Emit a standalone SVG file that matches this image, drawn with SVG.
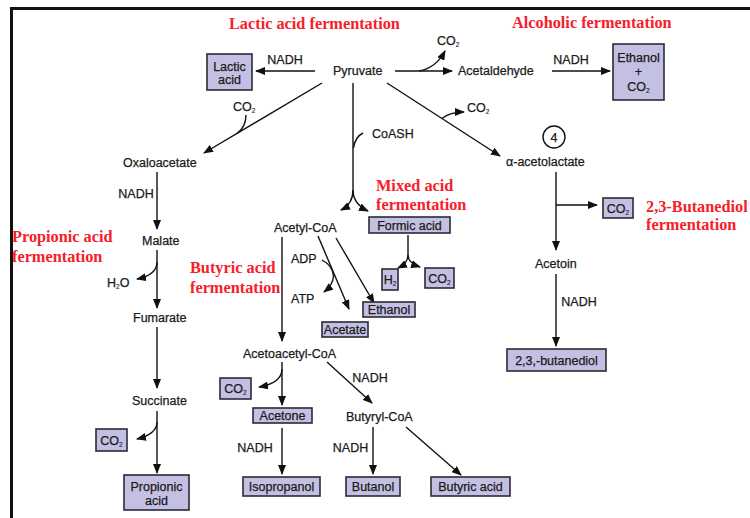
<svg xmlns="http://www.w3.org/2000/svg" width="750" height="518" viewBox="0 0 750 518">
<style>
.t{font-family:"Liberation Sans",Arial,sans-serif;font-size:12.5px;fill:#1a1a1a;stroke:#1a1a1a;stroke-width:0.25px}
.m{text-anchor:middle}
.r{font-family:"Liberation Serif","Times New Roman",serif;font-size:16.3px;font-weight:bold;fill:#f5202a}
.b{fill:#c4c0e4;stroke:#2a2a35;stroke-width:1.6}
.c{fill:none;stroke:#111;stroke-width:1.4}
.s{font-size:6.5px;stroke-width:0.1px}
</style>
<defs>
<marker id="a" markerUnits="userSpaceOnUse" markerWidth="10" markerHeight="8" refX="9" refY="4" orient="auto">
<path d="M0,0 L10,4 L0,8 Z" fill="#111"/>
</marker>
</defs>
<rect width="750" height="518" fill="#fff"/>
<path d="M11.5,520 L11.5,8.5 L752,8.5" fill="none" stroke="#111" stroke-width="3"/>

<g id="titles">
<text class="r" x="229" y="29">Lactic acid fermentation</text>
<text class="r" x="512" y="28">Alcoholic fermentation</text>
<text class="r" x="12" y="242">Propionic acid</text>
<text class="r" x="12" y="262">fermentation</text>
<text class="r" x="190" y="273">Butyric acid</text>
<text class="r" x="190" y="293">fermentation</text>
<text class="r" x="376" y="191">Mixed acid</text>
<text class="r" x="376" y="210">fermentation</text>
<text class="r" x="646" y="212" font-size="16">2,3-Butanediol</text>
<text class="r" x="646" y="230">fermentation</text>
</g>

<g id="connectors">
<line class="c" x1="315" y1="71" x2="256" y2="71" marker-end="url(#a)"/>
<line class="c" x1="395" y1="71" x2="452" y2="71" marker-end="url(#a)"/>
<path class="c" d="M419,71 Q436,68 445,51" marker-end="url(#a)"/>
<line class="c" x1="552" y1="71" x2="610" y2="71" marker-end="url(#a)"/>
<line class="c" x1="322" y1="83" x2="204" y2="153" marker-end="url(#a)"/>
<path class="c" d="M246,115 Q246,127 237,133.5"/>
<path class="c" d="M353,83 L353,190"/>
<path class="c" d="M353,190 Q353,204 341,210" marker-end="url(#a)"/>
<path class="c" d="M353,190 Q353,204 368,211" marker-end="url(#a)"/>
<path class="c" d="M363,133 Q355,137 353.5,148"/>
<line class="c" x1="387" y1="83" x2="500" y2="156" marker-end="url(#a)"/>
<path class="c" d="M442,118.5 Q450,112 464,112" marker-end="url(#a)"/>
<line class="c" x1="556" y1="172" x2="556" y2="250" marker-end="url(#a)"/>
<line class="c" x1="556" y1="205" x2="597" y2="205" marker-end="url(#a)"/>
<line class="c" x1="556" y1="274" x2="556" y2="346" marker-end="url(#a)"/>
<line class="c" x1="157" y1="172" x2="157" y2="229" marker-end="url(#a)"/>
<line class="c" x1="157" y1="250" x2="157" y2="308" marker-end="url(#a)"/>
<path class="c" d="M157,262 Q157,275 137,279" marker-end="url(#a)"/>
<line class="c" x1="157" y1="327" x2="157" y2="388" marker-end="url(#a)"/>
<line class="c" x1="157" y1="411" x2="157" y2="473" marker-end="url(#a)"/>
<path class="c" d="M157,422 Q157,434 137,439" marker-end="url(#a)"/>
<line class="c" x1="282" y1="237" x2="282" y2="341" marker-end="url(#a)"/>
<line class="c" x1="318" y1="236" x2="349" y2="309" marker-end="url(#a)"/>
<path class="c" d="M322,260 Q333,266 333.5,276 Q333,285 324,292" marker-end="url(#a)"/>
<line class="c" x1="336" y1="238" x2="374" y2="303" marker-end="url(#a)"/>
<path class="c" d="M408,235 L408,255"/>
<path class="c" d="M408,255 Q408,263 398,268" marker-end="url(#a)"/>
<path class="c" d="M408,255 Q408,263 420,267" marker-end="url(#a)"/>
<line class="c" x1="282" y1="362" x2="282" y2="405" marker-end="url(#a)"/>
<path class="c" d="M282,369 Q282,383 259,387" marker-end="url(#a)"/>
<line class="c" x1="327" y1="362" x2="372" y2="403" marker-end="url(#a)"/>
<line class="c" x1="282" y1="428" x2="282" y2="474" marker-end="url(#a)"/>
<line class="c" x1="373" y1="427" x2="373" y2="474" marker-end="url(#a)"/>
<line class="c" x1="406" y1="427" x2="461" y2="475" marker-end="url(#a)"/>
</g>

<g id="labels">
<text class="t m" x="285" y="63.5">NADH</text>
<text class="t m" x="571" y="63.5">NADH</text>
<text class="t" x="437" y="44.5">CO<tspan class="s" dy="2">2</tspan></text>
<text class="t" x="233" y="110.5">CO<tspan class="s" dy="2">2</tspan></text>
<text class="t" x="467" y="111.5">CO<tspan class="s" dy="2">2</tspan></text>
<text class="t" x="372" y="137.5">CoASH</text>
<text class="t m" x="136" y="197.5">NADH</text>
<text class="t" x="107" y="287">H<tspan class="s" dy="2">2</tspan><tspan dy="-2">O</tspan></text>
<text class="t" x="291" y="262.5">ADP</text>
<text class="t" x="291" y="302.5">ATP</text>
<text class="t m" x="370" y="381.5">NADH</text>
<text class="t m" x="255" y="451.5">NADH</text>
<text class="t m" x="350.5" y="451.5">NADH</text>
<text class="t m" x="579" y="305.5">NADH</text>
</g>

<g id="pyruvate"><text class="t" x="333" y="75">Pyruvate</text></g>
<g id="acetaldehyde"><text class="t" x="458" y="75">Acetaldehyde</text></g>
<g id="oxaloacetate"><text class="t" x="123" y="166.5">Oxaloacetate</text></g>
<g id="malate"><text class="t" x="142" y="244.5">Malate</text></g>
<g id="fumarate"><text class="t" x="133" y="321.5">Fumarate</text></g>
<g id="succinate"><text class="t" x="132" y="404.5">Succinate</text></g>
<g id="acetyl-coa"><text class="t" x="274" y="231.5">Acetyl-CoA</text></g>
<g id="acetoacetyl-coa"><text class="t" x="243" y="357.5">Acetoacetyl-CoA</text></g>
<g id="butyryl-coa"><text class="t" x="346" y="420.5">Butyryl-CoA</text></g>
<g id="acetolactate"><text class="t" x="506" y="165.5">α-acetolactate</text></g>
<g id="step4"><circle cx="554" cy="137" r="11" fill="none" stroke="#111" stroke-width="1.4"/><text class="t m" x="554" y="141.5">4</text></g>
<g id="acetoin"><text class="t" x="535" y="267.5">Acetoin</text></g>

<g id="lactic-acid"><rect class="b" x="207" y="54" width="45" height="36"/><text class="t m" x="229.5" y="70.5">Lactic</text><text class="t m" x="229.5" y="84">acid</text></g>
<g id="ethanol-co2"><rect class="b" x="613" y="44" width="51" height="56"/><text class="t m" x="638.5" y="61.5">Ethanol</text><text class="t m" x="638.5" y="76">+</text><text class="t m" x="638.5" y="90.5">CO<tspan class="s" dy="2">2</tspan></text></g>
<g id="formic-acid"><rect class="b" x="369" y="217" width="81" height="16"/><text class="t m" x="409.5" y="229.5">Formic acid</text></g>
<g id="h2"><rect class="b" x="382" y="269" width="16" height="21"/><text class="t m" x="390" y="284">H<tspan class="s" dy="2">2</tspan></text></g>
<g id="co2-mixed"><rect class="b" x="425" y="268" width="29" height="20"/><text class="t m" x="439.5" y="282.5">CO<tspan class="s" dy="2">2</tspan></text></g>
<g id="ethanol"><rect class="b" x="363" y="302" width="52" height="15"/><text class="t m" x="389" y="314">Ethanol</text></g>
<g id="acetate"><rect class="b" x="322" y="322" width="46" height="15"/><text class="t m" x="345" y="334">Acetate</text></g>
<g id="co2-butanediol"><rect class="b" x="603" y="198" width="30" height="20"/><text class="t m" x="618" y="212.5">CO<tspan class="s" dy="2">2</tspan></text></g>
<g id="butanediol"><rect class="b" x="507" y="349" width="99" height="22"/><text class="t m" x="556.5" y="364.5">2,3,-butanediol</text></g>
<g id="co2-succinate"><rect class="b" x="96" y="429" width="31" height="22"/><text class="t m" x="111.5" y="444.5">CO<tspan class="s" dy="2">2</tspan></text></g>
<g id="propionic-acid"><rect class="b" x="124" y="475" width="65" height="35"/><text class="t m" x="156.5" y="491">Propionic</text><text class="t m" x="156.5" y="505">acid</text></g>
<g id="co2-acetoacetyl"><rect class="b" x="220" y="378" width="31" height="21"/><text class="t m" x="235.5" y="393">CO<tspan class="s" dy="2">2</tspan></text></g>
<g id="acetone"><rect class="b" x="253" y="408" width="59" height="15"/><text class="t m" x="282.5" y="420">Acetone</text></g>
<g id="isopropanol"><rect class="b" x="243" y="477" width="77" height="19"/><text class="t m" x="281.5" y="491">Isopropanol</text></g>
<g id="butanol"><rect class="b" x="346" y="477" width="54" height="19"/><text class="t m" x="373" y="491">Butanol</text></g>
<g id="butyric-acid"><rect class="b" x="431" y="477" width="79" height="19"/><text class="t m" x="470.5" y="491">Butyric acid</text></g>
</svg>
